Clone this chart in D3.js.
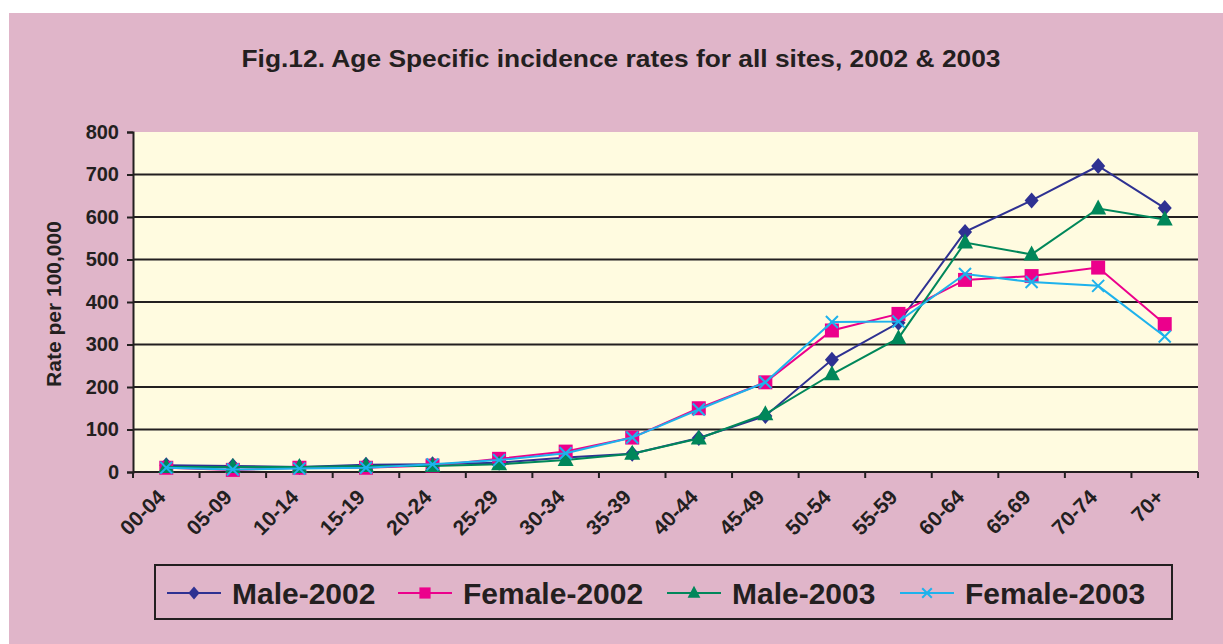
<!DOCTYPE html>
<html>
<head>
<meta charset="utf-8">
<script src="https://cdn.jsdelivr.net/npm/d3@7"></script>
<style>
  body { margin: 0; background: #fff; }
  text { font-family: "Liberation Sans", Arial, sans-serif; font-weight: bold; fill: #231f20; }
</style>
</head>
<body>
<div id="chart"></div>
<script>
// age groups on the x axis
var ageGroups = ["00-04", "05-09", "10-14", "15-19", "20-24", "25-29", "30-34", "35-39",
                 "40-44", "45-49", "50-54", "55-59", "60-64", "65.69", "70-74", "70+"];

// rates per 100,000
var male2002   = [16, 14, 12, 17, 18, 22, 34, 43, 80, 132, 264, 351, 565, 639, 720, 621];
var female2002 = [10, 5, 10, 10, 15, 31, 48, 81, 150, 211, 333, 372, 452, 461, 481, 348];
var male2003   = [12, 12, 12, 14, 14, 18, 28, 43, 79, 136, 230, 315, 540, 512, 620, 594];
var female2003 = [10, 6, 8, 10, 18, 28, 44, 81, 147, 211, 353, 354, 466, 447, 438, 319];

var seriesNames = ["Male-2002", "Female-2002", "Male-2003", "Female-2003"];
var seriesColors = ["#2e3192", "#ec008c", "#00875a", "#1eb2ec"];
var seriesShapes = ["diamond", "square", "triangle", "cross"];
var yTicks = [0, 100, 200, 300, 400, 500, 600, 700, 800];

var W = 1223, H = 644;
var margin = {top: 132, right: 25, bottom: 172, left: 133},
    width = W - margin.left - margin.right,
    height = H - margin.top - margin.bottom;

var svg = d3.select("#chart").append("svg")
    .attr("width", W)
    .attr("height", H);

// pink panel
svg.append("rect")
    .attr("x", 9).attr("y", 13)
    .attr("width", W - 9).attr("height", H - 13)
    .attr("fill", "#e0b5c9");

svg.append("text")
    .attr("x", 621).attr("y", 67)
    .attr("text-anchor", "middle")
    .attr("font-size", 24)
    .attr("textLength", 759)
    .attr("lengthAdjust", "spacingAndGlyphs")
    .text("Fig.12. Age Specific incidence rates for all sites, 2002 & 2003");

var g = svg.append("g")
    .attr("transform", "translate(" + margin.left + "," + margin.top + ")");

var x = d3.scaleBand().domain(ageGroups).range([0, width]);
var y = d3.scaleLinear().domain([0, 800]).range([height, 0]);

g.append("rect")
    .attr("width", width).attr("height", height)
    .attr("fill", "#fffbe0");

// gridlines
g.selectAll(".grid")
    .data(yTicks.filter(d => d > 0 && d < 800))
  .enter().append("line")
    .attr("x1", 0).attr("x2", width)
    .attr("y1", d => y(d)).attr("y2", d => y(d))
    .attr("stroke", "#231f20").attr("stroke-width", 2);

// y axis
var yAxis = g.append("g")
    .call(d3.axisLeft(y).tickValues(yTicks).tickSize(6).tickPadding(8));
yAxis.attr("font-size", 20).attr("font-family", null);
yAxis.select(".domain").attr("stroke", "#231f20").attr("stroke-width", 2);
yAxis.selectAll(".tick line").attr("stroke", "#231f20").attr("stroke-width", 2);
yAxis.selectAll(".tick text")
    .attr("font-size", 20).attr("fill", "#231f20");

// x axis, ticks on band edges
var xAxis = g.append("g")
    .attr("transform", "translate(0," + height + ")");
xAxis.append("line")
    .attr("x1", 0).attr("x2", width)
    .attr("stroke", "#231f20").attr("stroke-width", 2);
xAxis.selectAll(".xt")
    .data(ageGroups.concat(["end"]))
  .enter().append("line")
    .attr("x1", (d, i) => i * x.bandwidth()).attr("x2", (d, i) => i * x.bandwidth())
    .attr("y1", 0).attr("y2", 6)
    .attr("stroke", "#231f20").attr("stroke-width", 2);
xAxis.selectAll(".xl")
    .data(ageGroups)
  .enter().append("text")
    .attr("text-anchor", "end")
    .attr("font-size", 21)
    .attr("transform", d => "translate(" + (x(d) + x.bandwidth() / 2 - 10) + ",16) rotate(-45)")
    .attr("dy", "0.7em")
    .text(d => d);

svg.append("text")
    .attr("transform", "translate(61,304) rotate(-90)")
    .attr("text-anchor", "middle")
    .attr("font-size", 21)
    .text("Rate per 100,000");

var allSeries = [male2002, female2002, male2003, female2003];

function markerPath(shape, k) {
  if (shape === "diamond") return "M0," + (-8 * k) + "L" + (7 * k) + ",0L0," + (8 * k) + "L" + (-7 * k) + ",0Z";
  if (shape === "square") return "M" + (-7 * k) + "," + (-7 * k) + "H" + (7 * k) + "V" + (7 * k) + "H" + (-7 * k) + "Z";
  if (shape === "triangle") return "M0," + (-9 * k) + "L" + (8 * k) + "," + (6 * k) + "H" + (-8 * k) + "Z";
  return "M" + (-6 * k) + "," + (-6 * k) + "L" + (6 * k) + "," + (6 * k) + "M" + (6 * k) + "," + (-6 * k) + "L" + (-6 * k) + "," + (6 * k);
}

var line = d3.line()
    .x((d, i) => x(ageGroups[i]) + x.bandwidth() / 2)
    .y(d => y(d));

allSeries.forEach(function(vals, s) {
  g.append("path")
      .datum(vals)
      .attr("d", line)
      .attr("fill", "none")
      .attr("stroke", seriesColors[s])
      .attr("stroke-width", 2);
  g.selectAll(".m" + s)
      .data(vals)
    .enter().append("path")
      .attr("transform", (d, i) => "translate(" + (x(ageGroups[i]) + x.bandwidth() / 2) + "," + y(d) + ")")
      .attr("d", markerPath(seriesShapes[s], 1))
      .attr("fill", seriesShapes[s] === "cross" ? "none" : seriesColors[s])
      .attr("stroke", seriesColors[s])
      .attr("stroke-width", seriesShapes[s] === "cross" ? 2 : 0);
});

// legend
var legend = svg.append("g");
legend.append("rect")
    .attr("x", 155).attr("y", 565)
    .attr("width", 1017).attr("height", 54)
    .attr("fill", "none")
    .attr("stroke", "#231f20").attr("stroke-width", 2);

var legX = [167, 398, 667, 900];
seriesNames.forEach(function(name, s) {
  var lg = legend.append("g").attr("transform", "translate(" + legX[s] + ",593)");
  lg.append("line")
      .attr("x1", 0).attr("x2", 54)
      .attr("stroke", seriesColors[s]).attr("stroke-width", 2);
  lg.append("path")
      .attr("transform", "translate(27,0)")
      .attr("d", markerPath(seriesShapes[s], 0.8))
      .attr("fill", seriesShapes[s] === "cross" ? "none" : seriesColors[s])
      .attr("stroke", seriesColors[s])
      .attr("stroke-width", seriesShapes[s] === "cross" ? 2 : 0);
  lg.append("text")
      .attr("x", 65).attr("y", 0)
      .attr("dy", "0.36em")
      .attr("font-size", 30)
      .text(name);
});
</script>
</body>
</html>
